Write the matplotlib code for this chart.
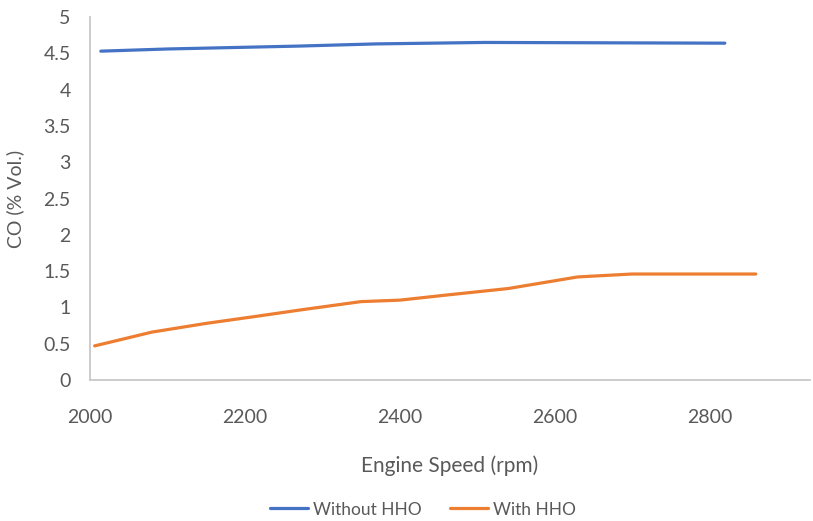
import matplotlib.pyplot as plt
from matplotlib.ticker import FuncFormatter

# CO emissions against engine speed
rpm_without = [2014, 2100, 2270, 2370, 2510, 2820]
co_without = [4.53, 4.56, 4.60, 4.63, 4.65, 4.64]

rpm_with = [2006, 2080, 2150, 2210, 2275, 2350, 2400, 2460, 2540, 2630, 2700, 2860]
co_with = [0.47, 0.66, 0.78, 0.87, 0.97, 1.08, 1.10, 1.17, 1.26, 1.42, 1.46, 1.46]

x_ticks = [2000, 2200, 2400, 2600, 2800]
y_ticks = [0, 0.5, 1, 1.5, 2, 2.5, 3, 3.5, 4, 4.5, 5]

plt.rcParams['font.family'] = ['Lato', 'DejaVu Sans']
grey = '#595959'

fig = plt.figure(figsize=(8.13, 5.21), dpi=100)
ax = fig.add_axes([0.1107, 0.2706, 0.8856, 0.6967])

ax.plot(rpm_without, co_without, color='#4472C4', linewidth=2.3, label='Without HHO',
        solid_capstyle='round')
ax.plot(rpm_with, co_with, color='#ED7D31', linewidth=2.3, label='With HHO',
        solid_capstyle='round')

ax.set_xlim(2000, 2930)
ax.set_ylim(0, 5)
ax.set_xticks(x_ticks)
ax.set_yticks(y_ticks)
ax.yaxis.set_major_formatter(FuncFormatter(lambda v, p: '%g' % v))
ax.tick_params(length=0, labelsize=14, colors=grey)
ax.tick_params(axis='x', pad=21)
ax.tick_params(axis='y', pad=14)

for side in ['top', 'right']:
    ax.spines[side].set_visible(False)
for side in ['left', 'bottom']:
    ax.spines[side].set_color('#c8c8c8')
    ax.spines[side].set_linewidth(1.3)

ax.set_xlabel('Engine Speed (rpm)', fontsize=15, color=grey, labelpad=21)
ax.set_ylabel('CO (% Vol.)', fontsize=14, color=grey, labelpad=14)

leg = fig.legend(loc='center', bbox_to_anchor=(0.52, 0.022), ncol=2, frameon=False,
                 fontsize=12.5, handlelength=2.2, columnspacing=1.6, handletextpad=0.3)
for t in leg.get_texts():
    t.set_color(grey)

plt.savefig('out.png', dpi=100)
